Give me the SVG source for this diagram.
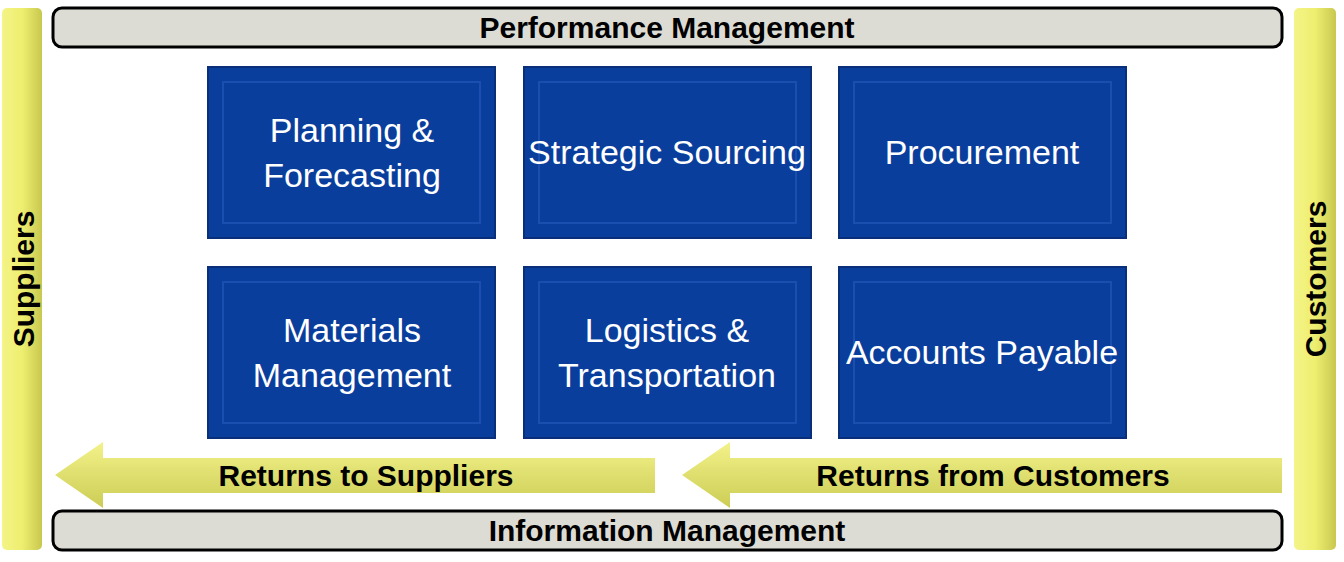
<svg xmlns="http://www.w3.org/2000/svg" width="1344" height="562" viewBox="0 0 1344 562">
<defs>
<style>
.bar{fill:#dcdcd4;stroke:#000;stroke-width:3}
.bt{font-family:"Liberation Sans",Arial,sans-serif;font-weight:bold;font-size:30px;fill:#000;text-anchor:middle}
.box{fill:#0a3e9c;stroke:#0a2f7a;stroke-width:2}
.inner{fill:none;stroke:#1a4fb0;stroke-width:2}
.wt{font-family:"Liberation Sans",Arial,sans-serif;font-size:34px;fill:#fff;text-anchor:middle}
.yel{fill:url(#yg)}
.arr{fill:url(#ag)}
</style>
<linearGradient id="yg" x1="0" x2="1" y1="0" y2="0"><stop offset="0" stop-color="#f4f488"/><stop offset="0.5" stop-color="#eeee70"/><stop offset="1" stop-color="#c8c850"/></linearGradient>
<linearGradient id="ag" x1="0" x2="0" y1="0" y2="1"><stop offset="0" stop-color="#f2f28a"/><stop offset="1" stop-color="#cccc55"/></linearGradient>
</defs>
<g id="suppliers"><rect class="yel" x="2" y="8" width="40" height="542" rx="5"/><text class="bt" transform="translate(34,279) rotate(-90)">Suppliers</text></g>
<g id="customers"><rect class="yel" x="1294" y="8" width="42" height="542" rx="5"/><text class="bt" transform="translate(1326,279) rotate(-90)">Customers</text></g>
<g id="perf"><rect class="bar" x="53" y="8" width="1229" height="39" rx="9"/><text class="bt" x="667" y="38">Performance Management</text></g>
<g id="info"><rect class="bar" x="53" y="511" width="1229" height="39" rx="9"/><text class="bt" x="667" y="541">Information Management</text></g>
<g id="n1"><rect class="box" x="208" y="67" width="287" height="171"/><rect class="inner" x="223" y="82" width="257" height="141"/><text class="wt" x="352" y="142">Planning &amp;</text><text class="wt" x="352" y="187">Forecasting</text></g>
<g id="n2"><rect class="box" x="524" y="67" width="287" height="171"/><rect class="inner" x="539" y="82" width="257" height="141"/><text class="wt" x="667" y="164">Strategic Sourcing</text></g>
<g id="n3"><rect class="box" x="839" y="67" width="287" height="171"/><rect class="inner" x="854" y="82" width="257" height="141"/><text class="wt" x="982" y="164">Procurement</text></g>
<g id="n4"><rect class="box" x="208" y="267" width="287" height="171"/><rect class="inner" x="223" y="282" width="257" height="141"/><text class="wt" x="352" y="342">Materials</text><text class="wt" x="352" y="387">Management</text></g>
<g id="n5"><rect class="box" x="524" y="267" width="287" height="171"/><rect class="inner" x="539" y="282" width="257" height="141"/><text class="wt" x="667" y="342">Logistics &amp;</text><text class="wt" x="667" y="387">Transportation</text></g>
<g id="n6"><rect class="box" x="839" y="267" width="287" height="171"/><rect class="inner" x="854" y="282" width="257" height="141"/><text class="wt" x="982" y="364">Accounts Payable</text></g>
<g id="connectors">
<g id="ret-sup"><polygon class="arr" points="55,475 103,442 103,458 655,458 655,493 103,493 103,508"/><text class="bt" x="366" y="486">Returns to Suppliers</text></g>
<g id="ret-cus"><polygon class="arr" points="682,475 730,442 730,458 1282,458 1282,493 730,493 730,508"/><text class="bt" x="993" y="486">Returns from Customers</text></g>
</g>
</svg>
